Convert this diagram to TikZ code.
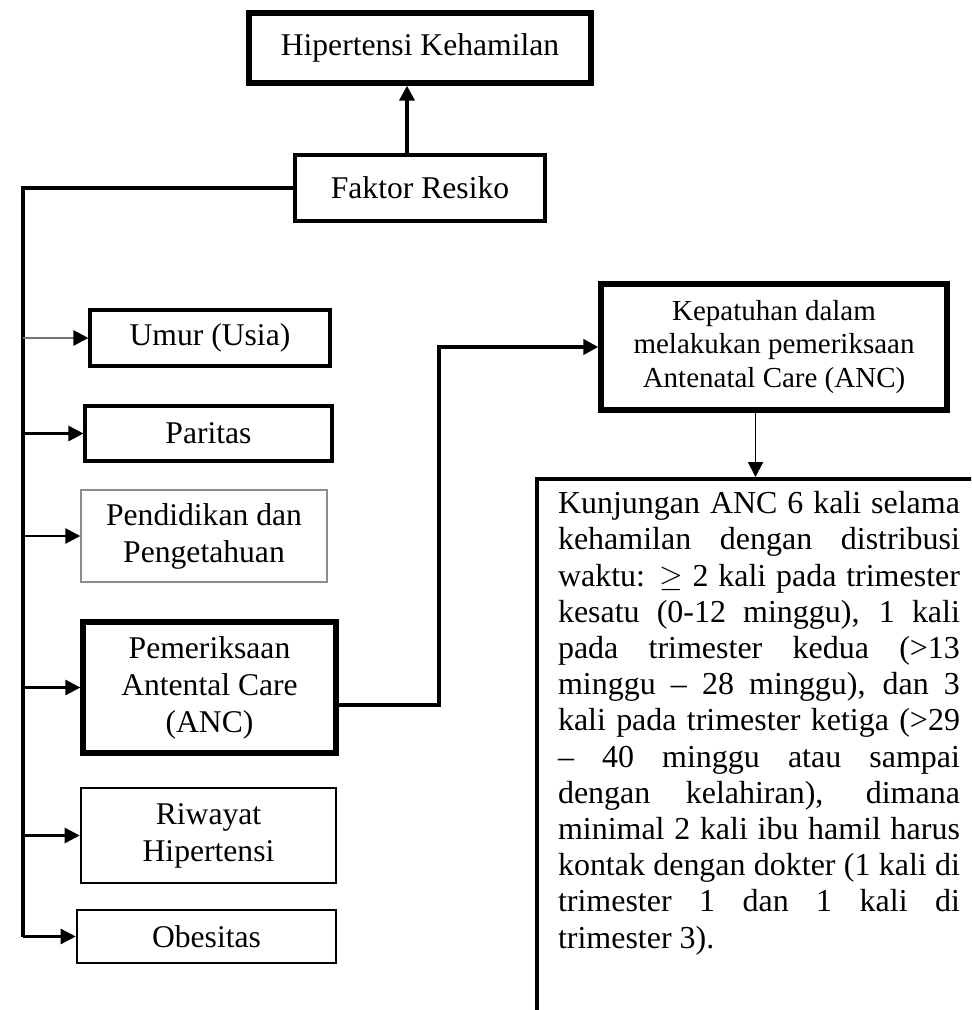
\documentclass[tikz,border=0pt]{standalone}
\usepackage{fontspec}
\setmainfont{Liberation Serif}
\usetikzlibrary{arrows.meta}
\tikzset{
  box/.style={draw,line width=1.5pt,align=center,inner sep=0pt,font=\fontsize{18}{21}\selectfont},
  boldbox/.style={box,line width=3pt},
  ln/.style={line width=2.4pt},
  ar/.style={-{Triangle[length=3mm,width=3mm,black]},line width=1.5pt},
  arb/.style={ar,line width=2.3pt}
}
\newcommand{\fullline}[1]{\makebox[\linewidth][s]{#1}\\}

\begin{document}
\begin{tikzpicture}[x=0.02cm,y=-0.02cm]
\useasboundingbox (0,0) rectangle (971,1010);
\clip (0,0) rectangle (971,1010);
\node[boldbox,minimum width=6.84cm,minimum height=1.4cm] (hk) at (420,48) {Hipertensi Kehamilan};
\node[box,line width=2.3pt,minimum width=5cm,minimum height=1.32cm] (fr) at (420,188) {Faktor Resiko};
\node[box,line width=1.8pt,minimum width=4.8cm,minimum height=1.12cm] (umur) at (210,338) {Umur (Usia)};
\node[box,line width=1.8pt,minimum width=4.94cm,minimum height=1.1cm] (par) at (208.5,433.5) {Paritas};
\node[box,line width=0.8pt,draw=black!45,minimum width=4.92cm,minimum height=1.84cm] (pend) at (204,536) {Pendidikan dan\\Pengetahuan};
\node[boldbox,minimum width=5.06cm,minimum height=2.62cm] (pem) at (209.5,687.5) {Pemeriksaan\\Antental Care\\(ANC)};
\node[box,minimum width=5.1cm,minimum height=1.9cm] (riw) at (208.5,835.5) {Riwayat\\Hipertensi};
\node[box,minimum width=5.18cm,minimum height=1.06cm] (obe) at (206.5,936.5) {Obesitas};
\node[boldbox,minimum width=6.92cm,minimum height=2.52cm,font=\fontsize{16.5}{18.8}\selectfont] (kep) at (774,347) {Kepatuhan dalam\\melakukan pemeriksaan\\Antenatal Care (ANC)};
\node[draw,line width=2.3pt,anchor=north west,inner xsep=0.42cm,inner ysep=0.25cm,font=\fontsize{18.2}{20.6}\selectfont] (kunj) at (535,477) {\parbox[t][11cm][t]{8.04cm}{%
\fullline{Kunjungan ANC 6 kali selama}
\fullline{kehamilan dengan distribusi}
\fullline{waktu: $\geq$ 2 kali pada trimester}
\fullline{kesatu (0-12 minggu), 1 kali}
\fullline{pada trimester kedua (>13}
\fullline{minggu -- 28 minggu), dan 3}
\fullline{kali pada trimester ketiga (>29}
\fullline{-- 40 minggu atau sampai}
\fullline{dengan kelahiran), dimana}
\fullline{minimal 2 kali ibu hamil harus}
\fullline{kontak dengan dokter (1 kali di}
\fullline{trimester 1 dan 1 kali di}
trimester 3).}};
\coordinate (tr) at (23,188);
\coordinate (tb) at (23,936.5);
\coordinate (mid) at (439,520);
\draw[arb] ([xshift=-0.26cm]fr.north) -- ([xshift=-0.26cm]hk.south);
\draw[ln] (fr.west) -- (tr) -- (tb);
\draw[ar,draw=black!55] (tr |- umur.west) -- (umur.west);
\draw[ar] (tr |- par.west) -- (par.west);
\draw[ar] (tr |- pend.west) -- (pend.west);
\draw[ar] (tr |- pem.west) -- (pem.west);
\draw[ar] (tr |- riw.west) -- (riw.west);
\draw[ar] (tb) -- (obe.west);
\draw[arb] ([yshift=-0.35cm]pem.east) -| (mid) |- (kep.west);
\draw[ar,line width=1.1pt] ([xshift=-0.37cm]kep.south) -- ([xshift=-0.37cm]kep.south |- kunj.north);
\end{tikzpicture}
\end{document}
